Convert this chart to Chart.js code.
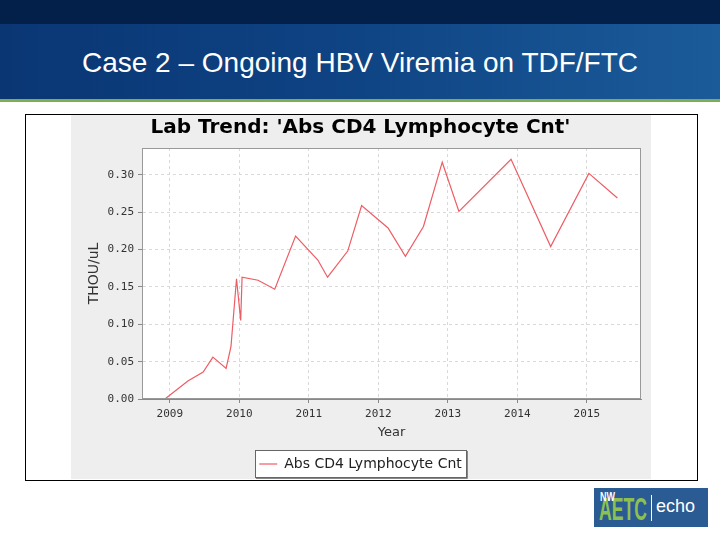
<!DOCTYPE html>
<html>
<head>
<meta charset="utf-8">
<script src="https://cdn.jsdelivr.net/npm/chart.js@4.4.1/dist/chart.umd.min.js"></script>
<style>
  body { margin: 0; width: 720px; height: 540px; background: #fff; position: relative; overflow: hidden;
         font-family: 'Liberation Sans', Arial, sans-serif; }
  #topBar { position: absolute; left: 0; top: 0; width: 720px; height: 24px; background: #03204a; }
  #header { position: absolute; left: 0; top: 24px; width: 720px; height: 75px;
            background: linear-gradient(90deg, #0a3674 0%, #0e4282 45%, #1b5b9a 100%); }
  #greenBar { position: absolute; left: 0; top: 99px; width: 720px; height: 3px; background: #7fae50; }
  #slideTitle { position: absolute; left: 0; top: 47px; width: 720px; text-align: center; color: #fff; font-size: 28px; }
  #frame { position: absolute; left: 25px; top: 114px; width: 671px; height: 365px; border: 1px solid #000; background: #fff; }
  #chartBox { position: absolute; left: 71px; top: 115px; width: 580px; height: 367px; }
  #logo { position: absolute; left: 594px; top: 488px; width: 114px; height: 39px; background: #2b5b93; overflow: hidden; }
  #logo .nw { position: absolute; left: 6px; top: 2px; color: #fff; font: bold 12px 'Liberation Sans', sans-serif;
              transform: scaleX(0.75); transform-origin: left top; }
  #logo .aetc { position: absolute; left: 5px; top: 3px; color: #8cc152; font: bold 32px 'Liberation Sans', sans-serif;
                transform: scaleX(0.55); transform-origin: left top; }
  #logo .sep { position: absolute; left: 57px; top: 7px; width: 1px; height: 26px; background: #fff; }
  #logo .echo { position: absolute; left: 62px; top: 8px; color: #fff; font: 18px 'Liberation Sans', sans-serif; }
</style>
</head>
<body>
<div id="topBar"></div>
<div id="header"></div>
<div id="greenBar"></div>
<div id="slideTitle">Case 2 – Ongoing HBV Viremia on TDF/FTC</div>
<div id="frame"></div>
<div id="chartBox"><canvas id="cd4Chart" width="580" height="367"></canvas></div>
<div id="logo"><span class="aetc">AETC</span><span class="nw">NW</span><span class="sep"></span><span class="echo">echo</span></div>

<script>
// datum som decimalår, värden i THOU/uL
const sampleYears = [2008.93, 2009.26, 2009.48, 2009.62, 2009.81, 2009.88, 2009.96, 2010.02, 2010.04,
  2010.27, 2010.51, 2010.81, 2011.13, 2011.27, 2011.56, 2011.76, 2012.14, 2012.39, 2012.65,
  2012.92, 2013.16, 2013.91, 2014.48, 2015.03, 2015.44];
const cd4Values = [0.000, 0.024, 0.036, 0.056, 0.041, 0.070, 0.161, 0.105, 0.163,
  0.159, 0.147, 0.218, 0.186, 0.163, 0.198, 0.259, 0.229, 0.191, 0.231,
  0.317, 0.251, 0.321, 0.204, 0.302, 0.269];
const xTickYears = [2009, 2010, 2011, 2012, 2013, 2014, 2015];
const yTickValues = [0, 0.05, 0.10, 0.15, 0.20, 0.25, 0.30];

const seriesName = 'Abs CD4 Lymphocyte Cnt';
const chartTitle = "Lab Trend: 'Abs CD4 Lymphocyte Cnt'";

//Bakgrund, plotram och legendram
const panelPlugin = {
  id: 'panel',
  beforeDraw(chart) {
    const ctx = chart.ctx;
    const a = chart.chartArea;
    ctx.save();
    ctx.fillStyle = '#eeeeee';
    ctx.fillRect(0, 0, chart.width, 364); // grå panel slutar vid ramen
    ctx.fillStyle = '#ffffff';
    ctx.fillRect(a.left, a.top, a.right - a.left, a.bottom - a.top);

    const hb = chart.legend.legendHitBoxes[0];
    if (hb) {
      const l = Math.round(hb.left) - 4, t = Math.round(hb.top) - 7;
      const w = Math.round(hb.width) + 8, h = Math.round(hb.height) + 13;
      ctx.fillRect(l, t, w, h);
      ctx.strokeStyle = '#666';
      ctx.lineWidth = 1;
      ctx.strokeRect(l + 0.5, t + 0.5, w, h);
      ctx.strokeStyle = '#888';
      ctx.beginPath();
      ctx.moveTo(l + w + 1.5, t + 1);
      ctx.lineTo(l + w + 1.5, t + h + 1.5);
      ctx.lineTo(l + 1, t + h + 1.5);
      ctx.stroke();
    }
    ctx.restore();
  },
  afterDraw(chart) {
    const ctx = chart.ctx;
    const a = chart.chartArea;
    ctx.save();
    ctx.strokeStyle = '#999';
    ctx.lineWidth = 1;
    ctx.strokeRect(a.left + 0.5, a.top + 0.5, a.right - a.left - 1, a.bottom - a.top - 1);
    ctx.restore();
  }
};

const monoFont = { family: "'DejaVu Sans Mono', monospace", size: 11 };

new Chart(document.getElementById('cd4Chart'), {
  type: 'line',
  data: {
    datasets: [{
      label: seriesName,
      data: sampleYears.map((yr, i) => ({ x: yr, y: cd4Values[i] })),
      borderColor: 'rgb(238, 92, 100)',
      backgroundColor: 'rgb(238, 92, 100)',
      borderWidth: 1.2,
      pointRadius: 0,
      tension: 0,
      fill: false
    }]
  },
  options: {
    responsive: false,
    animation: false,
    layout: { padding: { left: 9, right: 10, top: 0, bottom: 1 } },
    plugins: {
      title: {
        display: true,
        text: chartTitle,
        color: '#000',
        font: { family: "'DejaVu Sans', sans-serif", size: 20, weight: 'bold' },
        padding: { top: 1, bottom: 8 }
      },
      legend: {
        position: 'bottom',
        labels: {
          usePointStyle: true,
          pointStyle: 'line',
          pointStyleWidth: 18,
          color: '#222',
          font: { family: "'DejaVu Sans', sans-serif", size: 14 },
          padding: 7
        }
      },
      tooltip: { enabled: false }
    },
    scales: {
      x: {
        type: 'linear',
        min: 2008.6,
        max: 2015.78,
        afterBuildTicks: (s) => { s.ticks = xTickYears.map((v) => ({ value: v })); },
        afterFit: (s) => { s.height = 51; },
        ticks: { font: monoFont, color: '#333', padding: 5, maxRotation: 0, callback: (v) => String(v) },
        grid: { color: '#d9d9d9', tickColor: '#888', tickLength: 4 },
        border: { color: '#888', dash: [3, 3] },
        title: {
          display: true, text: 'Year', color: '#333',
          font: { family: "'DejaVu Sans', sans-serif", size: 13 },
          padding: { top: 0, bottom: 10 }
        }
      },
      y: {
        type: 'linear',
        min: 0,
        max: 0.336,
        afterBuildTicks: (s) => { s.ticks = yTickValues.map((v) => ({ value: v })); },
        afterFit: (s) => { s.width = 62; },
        ticks: { font: monoFont, color: '#333', padding: 4, callback: (v) => v.toFixed(2) },
        grid: { color: '#d9d9d9', tickColor: '#888', tickLength: 4 },
        border: { color: '#888', dash: [3, 3] },
        title: {
          display: true, text: 'THOU/uL', color: '#333',
          font: { family: "'DejaVu Sans', sans-serif", size: 14 },
          padding: { top: 6, bottom: 0 }
        }
      }
    }
  },
  plugins: [panelPlugin]
});
</script>
</body>
</html>
